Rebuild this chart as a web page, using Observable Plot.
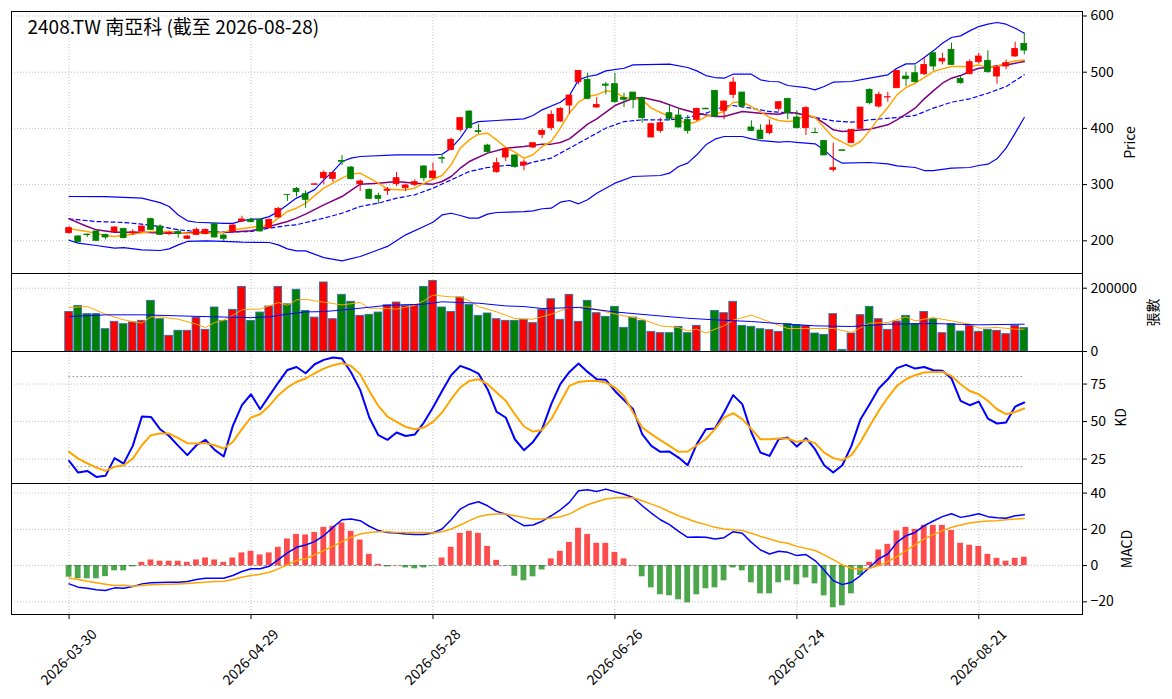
<!DOCTYPE html>
<html>
<head>
<meta charset="utf-8">
<script src="https://cdn.jsdelivr.net/npm/d3@7"></script>
<script src="https://cdn.jsdelivr.net/npm/@observablehq/plot@0.6"></script>
<style>
  body { margin: 0; background: white; }
  #chart { width: 1172px; position: relative; }
  #chart svg { display: block; background: transparent; overflow: visible; }
</style>
</head>
<body>
<div id="chart"></div>
<script>
// ---------------- DATA ----------------
const titleText = "2408.TW 南亞科 (截至 2026-08-28)";
const tickIdx = [0, 20, 40, 60, 80, 100];
const tickLabels = ["2026-03-30", "2026-04-29", "2026-05-28", "2026-06-26", "2026-07-24", "2026-08-21"];
const priceTicks = [200, 300, 400, 500, 600];
const volTicks = [0, 200000];
const kdTicks = [25, 50, 75];
const macdTicks = [-20, 0, 20, 40];

const open = [213.6,207.7,211,216.6,210.6,215.4,221,213,216.6,238.5,
225.4,212,215.4,203.5,210.6,211.8,229.6,209.4,216.6,234.3,
237.3,237.3,222.5,241.5,281.8,292.4,282.9,299.6,311.4,310.2,
342,330.4,300.8,290.6,280,289,300.8,293.6,299.6,332.2,
311.4,347,361.8,397.4,430,395,369.5,322,348.2,351.8,
334,366,388.5,400.4,412.2,440.7,482.2,486.4,437.1,478,
478.7,454,463.8,453.7,383.8,395.6,427.1,422.9,415.2,415.2,
435,466.8,431.2,459.7,463.8,401.6,396.2,391.5,434.8,452.6,
419.4,400.4,392,377.8,326.3,361,373.7,399.2,468.6,438.9,
454.9,471.5,492.3,498.2,496.4,533.8,519,539.7,488.1,496.4,
517.8,520.2,492.3,510.1,527.9,550.4];
const high = [225.4,209.4,212,217.7,211.8,224.9,222.5,219.5,226.6,240.3,
228.4,217,219.5,209.4,222.5,220.6,231.4,211.8,228.4,243.8,
240.3,239,239,259.2,282,294.8,288.9,301,324.5,322,
351.8,332.2,308.4,292.4,284.7,294.8,321.5,300.8,308.4,334,
338.1,352.9,382.6,419.4,431.2,407.5,371.9,347,366,353,
344,373.7,399.2,431.2,437.1,459.7,502.4,498.2,454.9,481.6,
498.2,462.6,463.8,454.9,409.3,418.2,441.9,436,422.9,436,
436,466.8,449,490.5,463.8,413.4,406.3,415.2,447.8,452.6,
431.2,438.9,400.4,377.8,373.7,361,397.4,437.1,470.4,464.4,
464.4,502.4,500,511.9,524.9,533.8,533.8,551.6,492.3,521.9,
533.8,538,510.1,521.9,553.4,569.4];
const low = [211.8,195.8,205.9,198.8,201.8,214.8,203.5,209.4,215.4,218.3,
209.4,209,204.7,202.3,209.4,210.6,204.7,198.8,215.4,233.1,
232,215.4,221.3,240.3,270,278,258,299,299.6,304,
334,308.4,287.7,273.5,265,280.6,296.6,287.7,296.6,305.5,
308.4,337,360,393.3,399.2,389.7,355.9,320.3,341,329.2,
324.5,363.6,381.4,395.6,411,425.3,477.5,450.8,436,459.7,
444.9,437.1,434.8,409.3,383.8,391.5,413.4,400.4,389.7,412.2,
433,419.4,415.2,452.6,436,394.5,379.6,388.5,430,415.2,
399.2,387.3,391.5,351.8,322.1,359.8,373.7,399.2,441.9,436,
446.6,471.5,474.5,481,494,502.4,513,511.9,478.7,495.3,
514.2,498.2,478.7,504.2,526.7,530.8];
const close = [222.5,197.6,210,200,205.9,223.7,204.7,215,225.4,219.5,
210.6,214,212,207.7,219.5,219.5,205.9,203.5,227.2,237.9,
233.1,216.6,237.3,256.9,281.5,286.5,272.9,300.5,320.9,320.9,
340.5,309.6,305.5,274.7,274.7,291,311.4,298.4,304.3,311.4,
323.3,346,379.6,418.2,400.4,393.5,357.7,338,363.6,331,
339.3,373.7,395.6,424.1,434.8,458.5,502.4,452.6,441.9,476,
446.6,451,450.8,418.2,407.5,409.3,417,401.6,395.6,434.8,
434,421.1,447.8,481.6,438.9,395.6,380.8,405.1,446.6,427.1,
400.4,436,391.5,351.8,329.2,360,397.4,437.1,444.9,459.7,
455.5,502.4,487.5,482.2,513,510.1,523.7,513,480.4,517.8,
527.9,500,508.3,516,541.5,538.5];
const volume = [125000,144000,118000,118000,70500,93700,86300,91600,96800,160000,
102000,49500,65300,65300,107000,68400,139000,96800,131600,204000,
96800,123000,142000,204000,149000,195000,128000,107000,218000,102000,
179000,157000,112600,115800,123000,146000,154700,144000,146000,204000,
223000,139000,125000,170500,147000,112600,120000,102000,96800,96800,
100000,89500,131600,165000,100000,179000,93700,160000,121000,109500,
141000,74700,107000,96800,62000,57900,57900,77900,57900,81000,
0,128000,121000,157000,81000,77900,70500,67400,62000,86300,
83200,81000,56800,52600,117900,5000,56800,114700,141000,102000,
68400,94700,112600,86300,125000,102000,57900,86300,63000,81000,
62000,68400,65300,54700,81000,73700];

// Price overlays: [bar index, value]
const bbUpper = [[0,278.8],[4,278.5],[8,275.8],[10,268],[11,261],[12,246],[13,235.5],[14,233],[17,231],[18,231],[19,235.5],[20,238.5],[21,238.5],[22,243],[23,252],[24,264],[25,276],[26,283],[27,291],[28,308.5],[29,323],[30,341],[31,347],[32,350],[36,353],[40,353],[41,354],[42,364.8],[43,382.6],[44,406],[45,412],[47,414],[50,417],[51,423],[52,433],[54,446.6],[55,458.5],[56,486.4],[57,492.3],[58,495.3],[59,502.4],[61,507],[62,513],[66,514.2],[68,508.3],[69,502.4],[70,494],[71,490.5],[72,489.3],[73,496.4],[75,496.4],[76,486.4],[77,483.4],[78,483],[79,476.3],[81,472.7],[82,468.6],[83,474.5],[84,482.2],[86,483.4],[88,489.3],[90,495.3],[91,507],[92,514.8],[93,514.8],[94,526],[95,538],[96,551.6],[97,561.7],[98,564.6],[99,573.5],[100,581.2],[101,585.4],[102,588.4],[103,585.4],[104,578.3],[105,569.4]];
const bbLower = [[0,201],[1,195.8],[3,191.6],[5,187],[6,188],[8,184],[10,182.7],[11,185.7],[12,192.8],[13,198.8],[15,200],[17,198.8],[19,197.6],[22,197],[23,192.8],[24,185.7],[25,182],[26,182],[28,170],[30,164.4],[32,172],[34,184],[35,190],[37,210.6],[39,225.4],[40,233],[41,246],[42,249],[43,245],[44,240.3],[45,240.3],[46,247.4],[47,250.3],[50,252],[51,253.3],[52,257],[53,258],[54,268.7],[55,271.7],[56,265.8],[57,273],[58,284.7],[60,302.5],[62,314.4],[65,316.2],[66,320.3],[67,332.2],[68,338.1],[69,353],[70,370.7],[71,380.8],[72,385.6],[74,385.6],[75,381.4],[76,378.4],[78,375.5],[79,376.7],[80,375],[82,372.5],[83,361.8],[84,347],[85,338.1],[88,339.3],[90,337],[91,333.4],[93,330.4],[94,325],[95,325],[97,329.2],[99,330.4],[100,334],[101,336.3],[102,345.8],[103,364.8],[104,391.5],[105,419.4]];
const ma20 = [[0,239],[3,234.3],[6,232.6],[8,229.6],[10,225.5],[12,219.5],[14,216.6],[17,215.4],[20,216.6],[22,222.5],[24,227.2],[25,228.4],[26,232.6],[28,240.3],[30,249],[32,261],[34,267],[36,275.8],[38,281.8],[40,293.6],[42,308.5],[44,323.3],[46,330.4],[48,334],[50,335.2],[51,340],[53,347],[55,364.8],[57,382.6],[59,400.4],[61,412.2],[63,415.2],[66,415.2],[68,419.4],[70,427],[72,439],[73,440.7],[75,436],[77,430],[80,427],[82,419.4],[84,413.4],[86,411],[88,415.2],[91,419.4],[93,423],[95,436],[97,446.6],[99,452.6],[101,462.6],[103,474.5],[105,495.3]];
const ma5 = [[0,221.3],[2,216.6],[4,209.4],[5,207.7],[7,211.8],[9,216.6],[11,216.6],[13,213.6],[15,213.6],[17,215.4],[18,219.5],[20,223.7],[22,228.4],[23,240.3],[24,252.1],[25,258],[26,267],[28,293.6],[30,311.4],[31,319],[32,320.3],[34,302.5],[35,291.8],[37,290.6],[38,293.6],[39,302.5],[41,316.2],[42,335.2],[43,364.8],[44,379.6],[45,389.7],[46,391.5],[47,379.6],[48,366],[49,357.7],[50,347],[51,353],[52,367.8],[53,376.7],[54,400.4],[55,427],[56,446.6],[57,456.7],[58,459.7],[59,466.8],[60,464.4],[61,455],[62,452.6],[63,450.8],[64,436],[65,428.2],[66,421.1],[67,415.2],[68,407.5],[69,412.2],[70,421.1],[71,425.3],[72,430],[73,446.6],[74,446.6],[75,438.9],[76,430],[77,419.4],[78,414],[79,412.2],[80,413.4],[81,425.3],[82,419.4],[83,401.6],[84,383.8],[85,375.5],[86,367.8],[87,376.7],[88,395.6],[89,418.2],[90,437.1],[91,459.7],[92,472.7],[93,480.4],[94,490.5],[95,501.2],[96,505.9],[97,510.1],[98,510.1],[99,510.1],[100,513],[101,508.3],[102,510.1],[103,516],[104,520.2],[105,521.9]];
const ma10 = [[0,239],[2,225.5],[3,219.5],[5,215.4],[8,215.4],[11,213.6],[14,214.8],[17,214.8],[20,217.7],[22,225.5],[24,234.3],[25,240.3],[26,247.4],[28,264],[30,278.8],[32,300.8],[34,302.5],[36,305.5],[38,302.5],[40,300.8],[41,305.5],[42,314.4],[43,329.2],[44,341],[46,356],[48,364.8],[50,367.8],[52,372],[53,372],[54,374.9],[55,381.4],[56,394.4],[57,407.5],[58,417],[60,440.7],[62,453.7],[63,455],[65,447.8],[67,436],[69,427],[71,421.1],[72,421.1],[74,430],[76,427],[78,425.3],[79,428.8],[80,427],[82,419.4],[83,409.3],[84,397.4],[85,394.4],[86,395.6],[88,398.6],[90,406.3],[91,415.2],[92,425.3],[93,436],[94,452.6],[95,466.8],[96,480.4],[97,489.3],[98,494],[99,501.2],[100,507],[101,508.3],[102,511.3],[103,513],[104,516],[105,519]];

// Volume averages: [bar index, value]
const volMa5 = [[0,139000],[2,142000],[4,118000],[6,100000],[8,89500],[9,109500],[10,109500],[12,102000],[14,86300],[15,75800],[16,91600],[17,99000],[18,114700],[19,131600],[20,133700],[21,133700],[23,154700],[24,146000],[25,163000],[26,165000],[27,160000],[29,151600],[30,147000],[32,154700],[33,136800],[35,135800],[36,133700],[38,146000],[39,160000],[40,178000],[42,172600],[43,172600],[44,160000],[45,142000],[47,125000],[49,104000],[51,102000],[53,118000],[55,139000],[57,141000],[59,125000],[61,112600],[63,102000],[65,81000],[67,75800],[68,65300],[69,70500],[70,57900],[71,70500],[72,81000],[73,99000],[75,114700],[77,93700],[79,72600],[80,72600],[82,72600],[84,72600],[86,60000],[88,89500],[90,91600],[92,109500],[93,96800],[95,107000],[97,96800],[99,86300],[100,73700],[102,75800],[104,70500],[105,70500]];
const volMa20 = [[0,110500],[4,115800],[8,115800],[12,112600],[16,109500],[20,107000],[22,109500],[24,118000],[26,125000],[28,126000],[31,133700],[35,146000],[39,149500],[41,157000],[45,152600],[48,144000],[50,142000],[52,135800],[56,139000],[60,125000],[64,114700],[68,105000],[71,100000],[75,94700],[79,86300],[82,81000],[86,79000],[90,86300],[95,88400],[100,84200],[105,86300]];

// KD
const kValues = [23.8,16,17.1,13.1,13.8,25.6,22,33.8,53.3,53.1,
44.9,40.4,33.8,27.6,34.2,37.8,31.1,26.7,47.1,60.9,
68.2,58.2,67.1,76,84.4,86.4,82.2,88.2,91.1,92.7,
92,82.7,71.1,52.7,40.9,37.8,42.7,40.4,41.3,49.3,
59.3,70.4,80.9,87.1,84.9,82,71.6,56.4,52.7,38.2,
30.9,36.4,45,61.6,74.9,83.1,88.7,83.1,78.2,77.8,
70.4,64.4,58.2,41.6,33.8,29.8,30,26,20.9,34.9,
44.9,45.3,56,67.6,61.6,42.7,29.3,27.1,38.2,39.3,
33.3,38.9,31.6,20.9,16,20.9,33.8,51.6,61.6,72,
78.2,85.6,87.8,85.3,86.4,84.2,83.8,78.7,63.8,60.9,
63.3,52,48.7,49.3,60,62.7];
const dValues = [29.8,25.3,22.2,19.3,17.1,19.8,20.9,25.3,34.2,40.9,
42,42,38.9,35.6,35.3,35.6,34.2,32,36.4,44.9,
52.7,54.9,60.4,67.6,72.7,76.4,78.7,82.2,85.3,87.6,
88.9,87.1,81.6,70.4,60.4,53.3,49.8,46.4,44.9,46,
49.8,56,64.9,72.7,77.1,78.2,74.9,69.3,63.8,54.9,
46.7,43.3,44.4,51.6,62.7,73.8,76.4,77.1,77.1,76,
72.7,67.1,56,46,41.6,37.6,33.8,29.8,30,34.2,
38.2,44.9,52.7,55.6,51.6,44.9,38.2,38.2,38.7,38.7,
36.4,37.6,35.6,29.3,25.6,24.2,27.6,36.4,47.1,57.1,
66,73.8,78.2,80.9,82.7,83.1,83.1,80.4,74.9,70.4,
68.2,63.8,58.2,54.9,56.4,58.7];
const kdLevels = [20, 80];

// MACD
const macdHist = [-6.4,-7.3,-7.3,-7.3,-6.1,-2.9,-2.9,-0.7,1.8,3.1,
2.4,2.4,2.4,1.8,3.1,4.2,3.1,1.8,4.2,7,
7.9,5.9,7,10.1,14.7,17.2,16.9,18.3,21.1,21.7,
23.5,18.9,14.1,6.2,0.7,-0.7,0.1,-1.3,-1.8,-1.3,
-0.2,4.2,10.1,17.8,18.9,17.8,10.6,2.9,-0.2,-5.9,
-8.4,-6.2,-2.4,3.7,7.9,12.8,20.6,17.2,12.3,12.3,
7.3,3.7,0.1,-6.2,-12.3,-16.1,-16.7,-18.9,-20.6,-16.1,
-12.8,-12.3,-8.4,-1.3,-2.9,-9.5,-15.6,-15.6,-9.5,-8.4,
-10.6,-6.8,-10.1,-16.7,-23.3,-22.2,-15.6,-5.5,1.8,8.6,
11.7,19.1,21.1,20,22.2,22.2,22.2,19.4,12.3,11.2,
10.6,6.2,4,2.4,4,4.6];
const macdDif = [-10.1,-11.9,-12.5,-13.4,-13.8,-12.3,-12.5,-11.6,-10.1,-9.5,
-9.4,-9.2,-9.2,-8.8,-7.7,-7,-7,-7,-5.5,-3.3,
-1.8,-1.8,-0.4,3.3,7,10.1,11.4,13.2,16.5,21.1,
25.3,25.7,24.8,21.7,19.3,18.3,18,17.4,17.1,17.2,
18,20.2,25.3,31.2,33.9,35.2,33,29.9,28.4,24.8,
22,22.4,24.5,27.5,30.8,34.9,41.3,41.8,40.9,42.2,
40.7,39.4,37.6,33,29,25.3,22.6,18.9,15.6,15.8,
15.6,14.7,15.4,18.7,17.8,12.8,8.6,6.4,7.9,7.3,
5.5,6.1,2.8,-2.4,-8.3,-10.5,-9.2,-5.5,-0.9,3.7,
6.4,12.8,16.5,18.3,22,24.6,27,28.6,26.6,27.5,
28.6,27,26.4,26.1,27.5,28.1];
const macdDea = [-6.8,-7.7,-8.6,-9.5,-10.3,-11,-10.8,-11.4,-11,-10.6,
-10.5,-10.3,-10.1,-9.9,-9.5,-9.2,-8.8,-8.6,-7.7,-6.4,
-5.5,-4.8,-3.7,-1.8,0.4,2.8,3.8,5.9,8.3,10.6,
13.2,15.6,17.4,18.3,18.7,18.7,18.3,18.3,18.2,18.2,
18,18.7,20.2,22.4,24.8,27,28.1,28.4,28.4,27.5,
26.6,25.7,25.7,26.2,27,28.4,31.2,33.6,35.2,36.7,
37.4,37.6,37.4,35.8,33.9,32.1,29.7,27.5,25.7,23.9,
22.6,21.1,20.2,19.8,19.3,17.8,16.1,14.7,13.2,12.3,
10.6,9.5,8.3,5.9,3.3,0.4,-1.5,-2.2,-1.5,0,
2.2,5,8.3,11.4,14.7,17.1,19.3,21.1,22.4,23.5,
24.2,24.6,24.8,25.3,25.7,26];

// ---------------- BUILD ----------------
const N = open.length;
const bars = d3.range(N).map(i => ({
  i, o: open[i], h: high[i], l: low[i], c: close[i], v: volume[i],
  up: close[i] >= open[i],
  k: kValues[i], d: dValues[i], hist: macdHist[i], dif: macdDif[i], dea: macdDea[i]
}));
const pts = arr => arr.map(([i, v]) => ({i, v}));

const FONT = '"Noto Sans CJK TC", "Noto Sans", sans-serif';
const W = 1172, ML = 11, MR = 90;
const X = {type: "linear", domain: [-6.33, 111.4], axis: null};
const gridStyle = {stroke: "#b0b0b0", strokeWidth: 0.8, strokeDasharray: "1,2"};
const candleColor = d => d.up ? "red" : "green";
const base = {
  width: W, marginLeft: ML, marginRight: MR,
  x: X, color: {type: "identity"},
  style: {fontFamily: FONT, fontSize: "14px", background: "transparent", overflow: "visible", color: "black"}
};
const axisR = (ticks, fmt) => Plot.axisY({anchor: "right", ticks, tickSize: 4, tickPadding: 4, label: null, tickFormat: fmt, fontSize: 14});
const ylabel = (txt, dx) => Plot.text([txt], {text: d => d, frameAnchor: "right", dx, rotate: -90, textAnchor: "middle", lineAnchor: "middle", fontSize: 14, fill: "black"});

// Panel 1: price
const p1 = Plot.plot({
  ...base, height: 273, marginTop: 11, marginBottom: 0,
  y: {domain: [141.8, 608], axis: null},
  marks: [
    Plot.ruleX(tickIdx, gridStyle),
    Plot.ruleY(priceTicks, gridStyle),
    Plot.line(pts(bbUpper), {x: "i", y: "v", stroke: "blue", strokeWidth: 1.2}),
    Plot.line(pts(bbLower), {x: "i", y: "v", stroke: "blue", strokeWidth: 1.2}),
    Plot.line(pts(ma20), {x: "i", y: "v", stroke: "blue", strokeWidth: 1.2, strokeDasharray: "4,3"}),
    Plot.line(pts(ma10), {x: "i", y: "v", stroke: "purple", strokeWidth: 1.5}),
    Plot.line(pts(ma5), {x: "i", y: "v", stroke: "orange", strokeWidth: 1.5}),
    Plot.ruleX(bars, {x: "i", y1: "l", y2: "h", stroke: candleColor, strokeWidth: 1}),
    Plot.rect(bars, {x1: d => d.i - 0.32, x2: d => d.i + 0.32, y1: d => Math.min(d.o, d.c), y2: d => Math.max(d.o, d.c), fill: candleColor, stroke: candleColor, strokeWidth: 0.8}),
    Plot.text([titleText], {text: d => d, frameAnchor: "top-left", dx: 16, dy: 9, textAnchor: "start", lineAnchor: "top", fontSize: 19, fill: "black"}),
    axisR(priceTicks, d => d),
    ylabel("Price", 48),
    Plot.frame({stroke: "black", strokeWidth: 1})
  ]
});

// Panel 2: volume
const p2 = Plot.plot({
  ...base, height: 78, marginTop: 0, marginBottom: 0,
  y: {domain: [0, 246400], axis: null},
  marks: [
    Plot.ruleX(tickIdx, gridStyle),
    Plot.ruleY([200000], gridStyle),
    Plot.rect(bars, {x1: d => d.i - 0.42, x2: d => d.i + 0.42, y1: 0, y2: "v", fill: candleColor, stroke: "#2f6fa8", strokeWidth: 0.9}),
    Plot.line(pts(volMa5), {x: "i", y: "v", stroke: "orange", strokeWidth: 1}),
    Plot.line(pts(volMa20), {x: "i", y: "v", stroke: "blue", strokeWidth: 1}),
    axisR(volTicks, d3.format("d")),
    ylabel("張數", 71),
    Plot.frame({stroke: "black", strokeWidth: 1})
  ]
});

// Panel 3: KD
const p3 = Plot.plot({
  ...base, height: 132, marginTop: 0, marginBottom: 0,
  y: {domain: [8.7, 96.7], axis: null},
  marks: [
    Plot.ruleX(tickIdx, gridStyle),
    Plot.ruleY(kdTicks, gridStyle),
    Plot.ruleY(kdLevels, {x1: () => 0, x2: () => N - 1, stroke: "#888", strokeWidth: 1, strokeDasharray: "1.5,2.5"}),
    Plot.line(bars, {x: "i", y: "k", stroke: "blue", strokeWidth: 2}),
    Plot.line(bars, {x: "i", y: "d", stroke: "orange", strokeWidth: 2}),
    axisR(kdTicks, d => d),
    ylabel("KD", 39),
    Plot.frame({stroke: "black", strokeWidth: 1})
  ]
});

// Panel 4: MACD
const p4 = Plot.plot({
  ...base, height: 216, marginTop: 0, marginBottom: 85,
  y: {domain: [-27, 45.3], axis: null},
  marks: [
    Plot.ruleX(tickIdx, gridStyle),
    Plot.ruleY(macdTicks, gridStyle),
    Plot.ruleY([0], {x1: () => 0, x2: () => N - 1, stroke: "#888", strokeWidth: 1, strokeDasharray: "3,2"}),
    Plot.rect(bars, {x1: d => d.i - 0.32, x2: d => d.i + 0.32, y1: 0, y2: "hist", fill: d => d.hist >= 0 ? "red" : "green", fillOpacity: 0.7}),
    Plot.line(bars, {x: "i", y: "dif", stroke: "blue", strokeWidth: 1.5}),
    Plot.line(bars, {x: "i", y: "dea", stroke: "orange", strokeWidth: 1.5}),
    axisR(macdTicks, d => d < 0 ? "\u2212" + Math.abs(d) : String(d)),
    Plot.axisX({ticks: tickIdx, tickSize: 5, tickFormat: () => "", label: null}),
    Plot.text(tickIdx, {x: d => d, text: (d, k) => tickLabels[k], frameAnchor: "bottom", dy: 43, rotate: -45, textAnchor: "middle", lineAnchor: "middle", fontSize: 14, fill: "black"}),
    ylabel("MACD", 45),
    Plot.frame({stroke: "black", strokeWidth: 1})
  ]
});

const root = document.getElementById("chart");
[p1, p2, p3, p4].forEach(p => root.appendChild(p));
</script>
</body>
</html>
